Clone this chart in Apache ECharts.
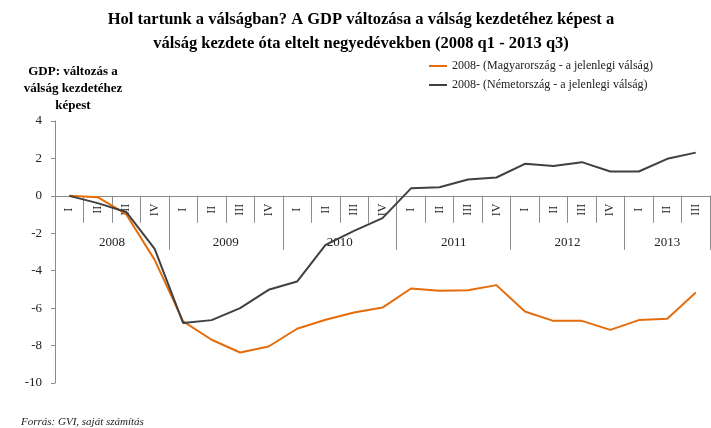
<!DOCTYPE html>
<html>
<head>
<meta charset="utf-8">
<script src="https://cdn.jsdelivr.net/npm/echarts@6/dist/echarts.min.js"></script>
<style>
  html, body { margin: 0; padding: 0; background: #fff; }
  #chart { width: 711px; height: 428px; }
</style>
</head>
<body>
<div id="chart"></div>
<script>
// quarters 2008 q1 - 2013 q3
const quarters = ['I','II','III','IV','I','II','III','IV','I','II','III','IV',
                  'I','II','III','IV','I','II','III','IV','I','II','III'];
const years = ['2008','2009','2010','2011','2012','2013'];
const hungary = [0, -0.07, -0.98, -3.42, -6.71, -7.69, -8.37, -8.05, -7.1, -6.62, -6.23, -5.97,
                 -4.95, -5.07, -5.04, -4.77, -6.18, -6.68, -6.68, -7.16, -6.64, -6.57, -5.16];
const germany = [0, -0.39, -0.86, -2.83, -6.8, -6.64, -6.0, -5.02, -4.58, -2.62, -1.87, -1.19,
                 0.4, 0.46, 0.87, 0.98, 1.71, 1.59, 1.8, 1.3, 1.3, 1.98, 2.31];
const yMin = -10, yMax = 4;

// year boundaries: a new year starts at every 'I'
const yearStarts = [];
quarters.forEach((q, i) => { if (q === 'I') yearStarts.push(i); });
const yearEdges = yearStarts.concat([quarters.length]);
const yearMids = yearStarts.map((s, k) => (s + yearEdges[k + 1]) / 2);

const serif = '"Liberation Serif", "DejaVu Serif", serif';
const gray = '#8c8c8c';
const gridTop = 121, gridHeight = 262;
// lift the category axes from the bottom edge up to the zero line
const zeroOffset = -gridHeight * (0 - yMin) / (yMax - yMin);

const chart = echarts.init(document.getElementById('chart'));
chart.setOption({
  animation: false,
  title: [{
    text: 'Hol tartunk a válságban? A GDP változása a válság kezdetéhez képest a\nválság kezdete óta eltelt negyedévekben (2008 q1 - 2013 q3)',
    left: 356, top: 3, textAlign: 'center',
    textStyle: { fontFamily: serif, fontSize: 16.5, fontWeight: 'bold', color: '#000', lineHeight: 24 }
  }, {
    text: 'Forrás: GVI, saját számítás',
    left: 16, top: 412,
    textStyle: { fontFamily: serif, fontSize: 11, fontStyle: 'italic', fontWeight: 'normal', color: '#222' }
  }],
  legend: {
    orient: 'vertical', left: 424, top: 55,
    icon: 'rect', itemWidth: 18, itemHeight: 2, itemGap: 7,
    textStyle: { fontFamily: serif, fontSize: 12, color: '#222' },
    data: ['2008- (Magyarország - a jelenlegi válság)', '2008- (Németország - a jelenlegi válság)']
  },
  grid: { left: 55, right: 1, top: gridTop, height: gridHeight, outerBoundsMode: 'none', containLabel: false },
  xAxis: [{
    type: 'category',
    data: quarters,
    boundaryGap: true,
    position: 'bottom', offset: zeroOffset,
    axisLine: { onZero: false, lineStyle: { color: gray, width: 1 } },
    axisTick: { show: true, interval: 0, length: 27, lineStyle: { color: gray } },
    axisLabel: { interval: 0, rotate: 90, align: 'center', margin: 14,
                 fontFamily: serif, fontSize: 12, color: '#222' },
    splitLine: { show: false }
  }, {
    type: 'value',
    min: 0, max: quarters.length,
    position: 'bottom', offset: zeroOffset,
    axisLine: { show: false, onZero: false },
    axisTick: { show: true, customValues: yearEdges, length: 54, lineStyle: { color: gray } },
    axisLabel: { customValues: yearMids, margin: 40,
                 formatter: v => years[yearMids.indexOf(v)] || '',
                 fontFamily: serif, fontSize: 13, color: '#222' },
    splitLine: { show: false }
  }],
  yAxis: {
    type: 'value',
    min: yMin, max: yMax, interval: 2,
    name: 'GDP: változás a\nválság kezdetéhez\nképest',
    nameLocation: 'end', nameGap: 1,
    nameTextStyle: { fontFamily: serif, fontSize: 13, fontWeight: 'bold', color: '#000',
                     lineHeight: 17, align: 'center', padding: [0, 0, 0, 36] },
    axisLine: { show: true, onZero: false, lineStyle: { color: gray } },
    axisTick: { show: true, length: 4, lineStyle: { color: gray } },
    axisLabel: { margin: 13, fontFamily: serif, fontSize: 13, color: '#222' },
    splitLine: { show: false }
  },
  series: [{
    name: '2008- (Magyarország - a jelenlegi válság)',
    type: 'line', data: hungary, symbol: 'none',
    lineStyle: { color: '#e46c0a', width: 2 }, itemStyle: { color: '#e46c0a' }
  }, {
    name: '2008- (Németország - a jelenlegi válság)',
    type: 'line', data: germany, symbol: 'none',
    lineStyle: { color: '#404040', width: 2 }, itemStyle: { color: '#404040' }
  }]
});
</script>
</body>
</html>
